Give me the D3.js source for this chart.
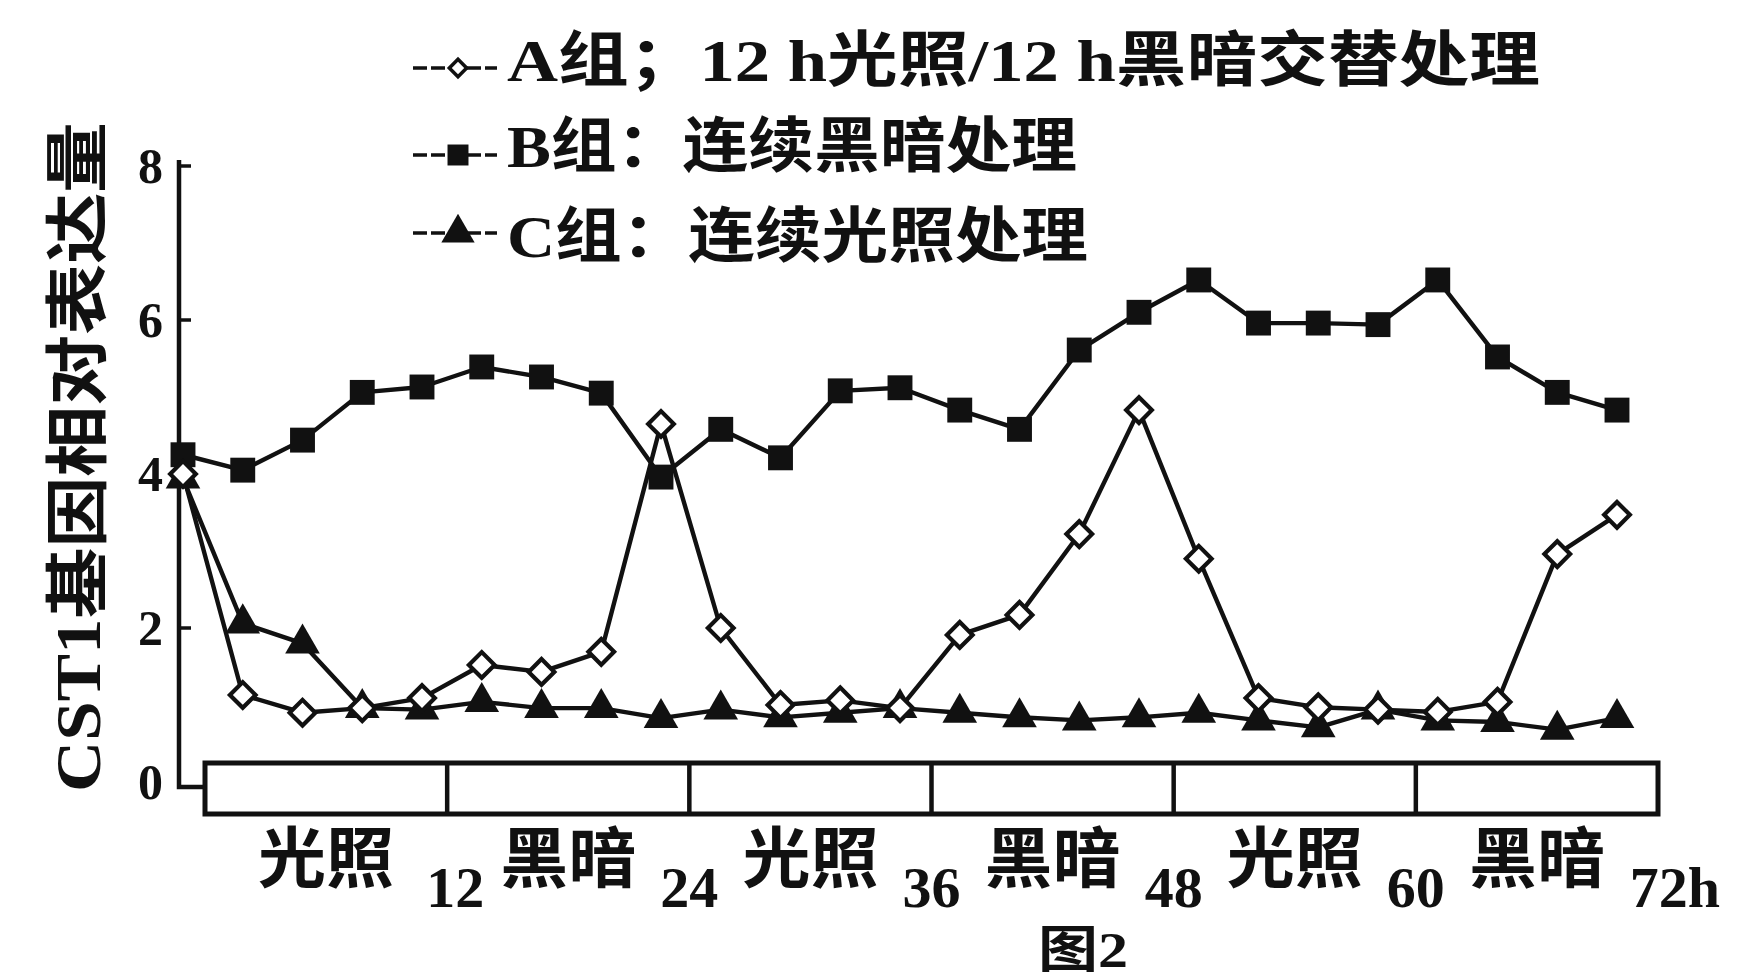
<!DOCTYPE html>
<html>
<head>
<meta charset="utf-8">
<script src="https://cdn.jsdelivr.net/npm/d3@7"></script>
<style>
  html, body { margin: 0; padding: 0; background: #fff; }
  svg { display: block; }
</style>
</head>
<body>
<svg id="chart" width="1737" height="980"></svg>
<script>
// Sampling times (h) and CST1 relative expression for the three groups
const hours  = [0, 3, 6, 9, 12, 15, 18, 21, 24, 27, 30, 33, 36, 39, 42, 45, 48, 51, 54, 57, 60, 63, 66, 69, 72];
const groupA = [4.0, 1.13, 0.90, 0.96, 1.09, 1.52, 1.43, 1.69, 4.65, 2.0, 1.0, 1.06, 0.96, 1.91, 2.17, 3.22, 4.83, 2.9, 1.09, 0.97, 0.94, 0.91, 1.04, 2.96, 3.47];
const groupB = [4.25, 4.05, 4.44, 5.06, 5.13, 5.39, 5.26, 5.05, 3.96, 4.58, 4.21, 5.08, 5.12, 4.83, 4.58, 5.61, 6.1, 6.52, 5.96, 5.96, 5.94, 6.52, 5.52, 5.06, 4.83];
const groupC = [3.94, 2.06, 1.80, 0.96, 0.94, 1.04, 0.96, 0.96, 0.83, 0.94, 0.84, 0.9, 0.96, 0.9, 0.84, 0.8, 0.84, 0.9, 0.8, 0.71, 0.94, 0.8, 0.78, 0.68, 0.83];

const yTicks      = [0, 2, 4, 6, 8];
const periods     = ["光照", "黑暗", "光照", "黑暗", "光照", "黑暗"];
const periodEnds  = ["12", "24", "36", "48", "60", "72h"];
const legendNames = ["A组；12 h光照/12 h黑暗交替处理", "B组：连续黑暗处理", "C组：连续光照处理"];
const yTitle      = "CST1基因相对表达量";
const caption     = "图2";

const INK = "#111";
const SERIF = "'Liberation Serif', 'Noto Sans CJK SC', serif";
const CJK = "'Noto Sans CJK SC', 'Liberation Serif', sans-serif";

const svg = d3.select("#chart");

// Scales
const x = d3.scaleLinear().domain([0, 72]).range([183, 1617]);
const y = d3.scaleLinear().domain([0, 8]).range([782, 166]);
// light/dark bar under the plot
const bar = d3.scaleLinear().domain([0, 72]).range([205, 1658]);
const barTop = 763, barBottom = 814;

// ---- Y axis ----
const axisX = 179;
svg.append("path")
  .attr("d", `M${axisX},160 L${axisX},787 L${bar(0)},787`)
  .attr("fill", "none").attr("stroke", INK).attr("stroke-width", 4.5);

svg.selectAll(".ytick").data(yTicks.filter(d => d > 0)).join("line")
  .attr("class", "ytick")
  .attr("x1", axisX).attr("x2", axisX + 12)
  .attr("y1", d => y(d)).attr("y2", d => y(d))
  .attr("stroke", INK).attr("stroke-width", 3.5);

svg.selectAll(".ylab").data(yTicks).join("text")
  .attr("class", "ylab")
  .attr("x", 163).attr("y", d => y(d))
  .attr("text-anchor", "end").attr("dominant-baseline", "central")
  .attr("font-family", SERIF).attr("font-weight", "bold")
  .attr("font-size", 50).attr("fill", INK)
  .text(d => d);

svg.append("text")
  .attr("transform", "translate(78,457) rotate(-90)")
  .attr("text-anchor", "middle").attr("dominant-baseline", "central")
  .attr("font-family", SERIF).attr("font-weight", "bold")
  .attr("font-size", 64).attr("fill", INK)
  .attr("textLength", 670).attr("lengthAdjust", "spacingAndGlyphs")
  .text(yTitle);

// ---- Light / dark bar ----
svg.append("rect")
  .attr("x", bar(0)).attr("y", barTop)
  .attr("width", bar(72) - bar(0)).attr("height", barBottom - barTop)
  .attr("fill", "none").attr("stroke", INK).attr("stroke-width", 5);

svg.selectAll(".divider").data(periods.slice(1)).join("line")
  .attr("class", "divider")
  .attr("x1", (d, i) => bar(12 * (i + 1))).attr("x2", (d, i) => bar(12 * (i + 1)))
  .attr("y1", barTop).attr("y2", barBottom)
  .attr("stroke", INK).attr("stroke-width", 4.5);

svg.selectAll(".period").data(periods).join("text")
  .attr("class", "period")
  .attr("x", (d, i) => bar(12 * i + 6)).attr("y", 853)
  .attr("text-anchor", "middle").attr("dominant-baseline", "central")
  .attr("font-family", CJK).attr("font-weight", "bold")
  .attr("font-size", 66).attr("fill", INK)
  .attr("textLength", 136).attr("lengthAdjust", "spacingAndGlyphs")
  .text(d => d);

svg.selectAll(".pend").data(periodEnds).join("text")
  .attr("class", "pend")
  .attr("x", (d, i) => bar(12 * (i + 1)) + (i === 0 ? 8 : 0) + (i === periodEnds.length - 1 ? 17 : 0))
  .attr("y", 887)
  .attr("text-anchor", "middle").attr("dominant-baseline", "central")
  .attr("font-family", SERIF).attr("font-weight", "bold")
  .attr("font-size", 58).attr("fill", INK)
  .text(d => d);

svg.append("text")
  .attr("x", 1083).attr("y", 950)
  .attr("text-anchor", "middle").attr("dominant-baseline", "central")
  .attr("font-family", SERIF).attr("font-weight", "bold")
  .attr("font-size", 50).attr("fill", INK)
  .attr("textLength", 90).attr("lengthAdjust", "spacingAndGlyphs")
  .text(caption);

// ---- Series ----
const line = d3.line().x(d => x(d[0])).y(d => y(d[1]));
const pts = vals => hours.map((h, i) => [h, vals[i]]);

const squareSym   = d3.symbol(d3.symbolSquare, 620);
const triangleSym = d3.symbol(d3.symbolTriangle, 520);
const diamondSym  = d3.symbol(d3.symbolSquare, 330);

const series = [
  { vals: groupB, sym: squareSym,   fill: INK,    rot: 0,  sw: 0 },
  { vals: groupC, sym: triangleSym, fill: INK,    rot: 0,  sw: 0 },
  { vals: groupA, sym: diamondSym,  fill: "#fff", rot: 45, sw: 4.2 }
];

series.forEach(s => {
  svg.append("path")
    .attr("d", line(pts(s.vals)))
    .attr("fill", "none").attr("stroke", INK)
    .attr("stroke-width", 4.4).attr("stroke-linejoin", "round");
});
series.forEach(s => {
  svg.append("g").selectAll("path").data(pts(s.vals)).join("path")
    .attr("d", s.sym())
    .attr("transform", d => `translate(${x(d[0])},${y(d[1])}) rotate(${s.rot})`)
    .attr("fill", s.fill)
    .attr("stroke", INK).attr("stroke-width", s.sw);
});

// ---- Legend ----
const legendRows = [
  { name: legendNames[0], sym: d3.symbol(d3.symbolSquare, 150), fill: "#fff", rot: 45, sw: 3.5, ty: 61,  my: 68,  len: 1033 },
  { name: legendNames[1], sym: d3.symbol(d3.symbolSquare, 440), fill: INK,    rot: 0,  sw: 0,   ty: 147, my: 155, len: 570 },
  { name: legendNames[2], sym: d3.symbol(d3.symbolTriangle, 480), fill: INK,  rot: 0,  sw: 0,   ty: 237, my: 233, len: 581 }
];

legendRows.forEach(r => {
  svg.append("line")
    .attr("x1", 413).attr("x2", 497)
    .attr("y1", r.my).attr("y2", r.my)
    .attr("stroke", INK).attr("stroke-width", 3.5)
    .attr("stroke-dasharray", "14,4");
  svg.append("path")
    .attr("d", r.sym())
    .attr("transform", `translate(458,${r.my}) rotate(${r.rot})`)
    .attr("fill", r.fill).attr("stroke", INK).attr("stroke-width", r.sw);
  svg.append("text")
    .attr("x", 507).attr("y", r.ty)
    .attr("dominant-baseline", "central")
    .attr("font-family", SERIF).attr("font-weight", "bold")
    .attr("font-size", 60).attr("fill", INK)
    .attr("textLength", r.len).attr("lengthAdjust", "spacingAndGlyphs")
    .text(r.name);
});
</script>
</body>
</html>
